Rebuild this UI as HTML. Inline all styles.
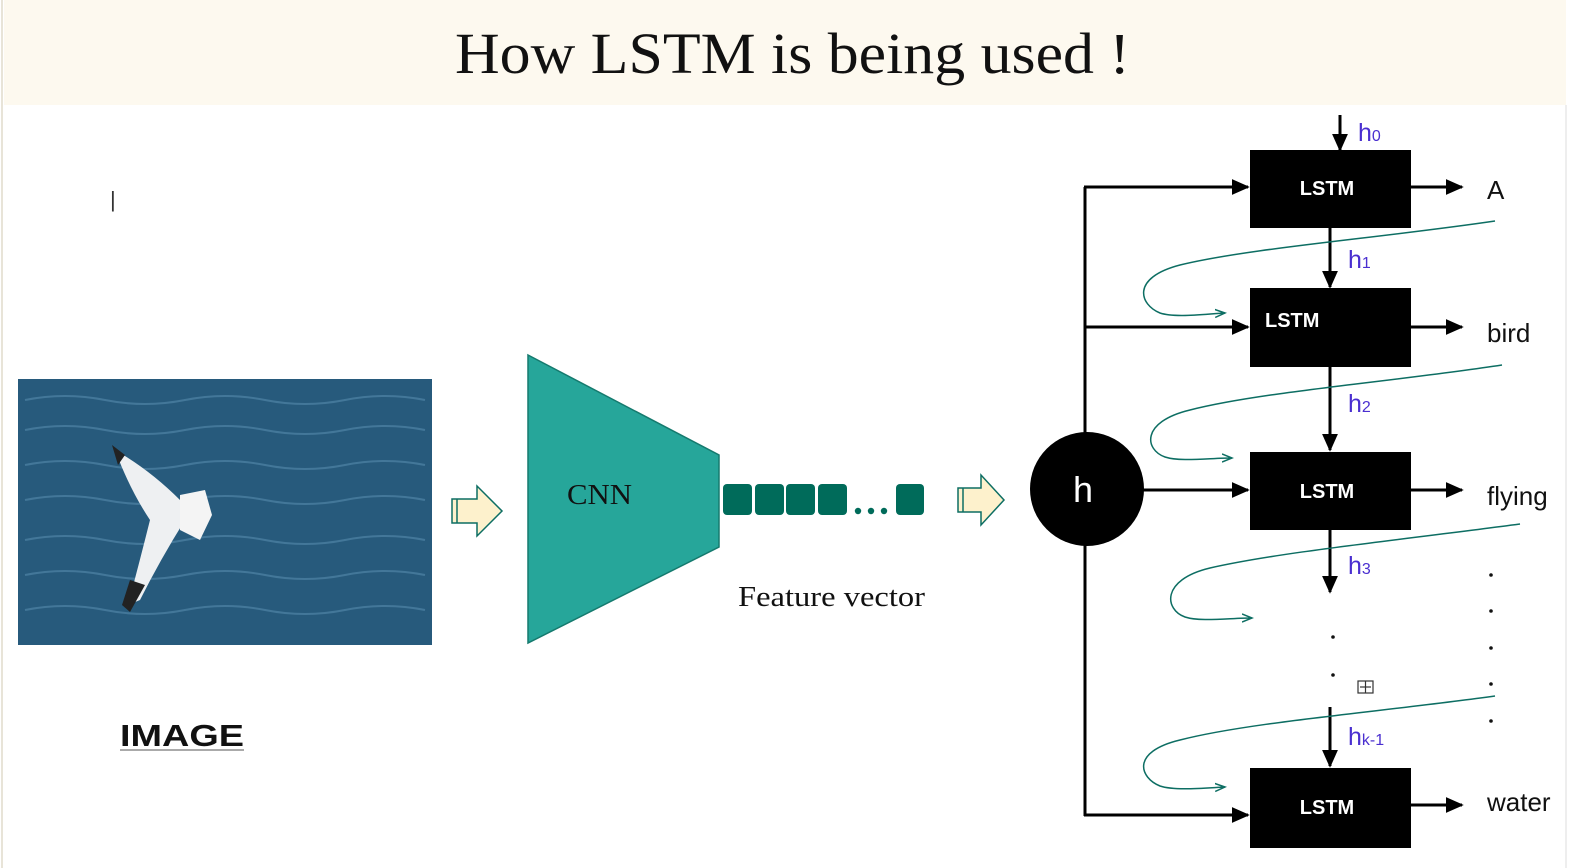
<!DOCTYPE html>
<html><head><meta charset="utf-8"><style>
html,body{margin:0;padding:0;background:#fff;width:1593px;height:868px;overflow:hidden}
svg{display:block}
.s{font-family:"Liberation Sans",sans-serif}
.r{font-family:"Liberation Serif",serif}
</style></head><body>
<svg width="1593" height="868" viewBox="0 0 1593 868" xmlns="http://www.w3.org/2000/svg">
<defs>
<marker id="ab" viewBox="0 0 10 10" markerWidth="18" markerHeight="16" refX="9" refY="5" orient="auto" markerUnits="userSpaceOnUse" preserveAspectRatio="none"><path d="M0,0 L10,5 L0,10 Z" fill="#000"/></marker>
<marker id="at" markerWidth="12" markerHeight="10" refX="10" refY="5" orient="auto" markerUnits="userSpaceOnUse"><path d="M0,1 L10,5 L0,9" fill="none" stroke="#0d6e63" stroke-width="1.5"/></marker>
</defs>
<rect x="0" y="0" width="1593" height="868" fill="#fff"/>
<rect x="4" y="0" width="1562" height="105" fill="#fdf9ef"/>
<line x1="2" y1="0" x2="2" y2="868" stroke="#e8e4d8" stroke-width="2"/>
<line x1="1566" y1="105" x2="1566" y2="868" stroke="#ddd" stroke-width="1"/>
<text x="455" y="73" textLength="675" lengthAdjust="spacingAndGlyphs" class="r" font-size="58" fill="#111">How LSTM is being used !</text>
<text x="110" y="207" class="s" font-size="22" fill="#333">|</text>

<!-- image -->
<rect x="18" y="379" width="414" height="266" fill="#275a7c"/>
<g stroke="#4f84a6" stroke-width="2" fill="none" opacity="0.7">
<path d="M25,400 q40,-8 80,0 t80,0 t80,0 t80,0 t80,0"/>
<path d="M25,430 q40,-8 80,0 t80,0 t80,0 t80,0 t80,0"/>
<path d="M25,465 q40,-8 80,0 t80,0 t80,0 t80,0 t80,0"/>
<path d="M25,500 q40,-8 80,0 t80,0 t80,0 t80,0 t80,0"/>
<path d="M25,540 q40,-8 80,0 t80,0 t80,0 t80,0 t80,0"/>
<path d="M25,575 q40,-8 80,0 t80,0 t80,0 t80,0 t80,0"/>
<path d="M25,610 q40,-8 80,0 t80,0 t80,0 t80,0 t80,0"/>
</g>
<path d="M115,450 Q150,470 180,500 L185,520 Q160,560 140,600 L128,605 Q140,560 150,520 Q130,490 115,450 Z" fill="#eef0f2"/>
<path d="M180,495 L205,490 L212,515 L200,540 L180,530 Z" fill="#f4f4f4"/>
<path d="M112,445 L125,455 L118,465 Z" fill="#222"/>
<path d="M130,580 L145,585 L130,612 L122,605 Z" fill="#222"/>
<text x="120" y="746" class="s" font-size="31" font-weight="bold" fill="#111" textLength="124" lengthAdjust="spacingAndGlyphs">IMAGE</text>
<line x1="120" y1="750" x2="244" y2="750" stroke="#555" stroke-width="1"/>

<!-- block arrows -->
<path d="M452,499 L477,499 L477,486 L502,511 L477,536 L477,523 L452,523 Z" fill="#fdf1cc" stroke="#0d6e63" stroke-width="1.5"/>
<line x1="457" y1="499" x2="457" y2="523" stroke="#0d6e63" stroke-width="1.5"/>
<path d="M958,488 L981,488 L981,475 L1004,500 L981,525 L981,512 L958,512 Z" fill="#fdf1cc" stroke="#0d6e63" stroke-width="1.5"/>
<line x1="963" y1="488" x2="963" y2="512" stroke="#0d6e63" stroke-width="1.5"/>

<!-- CNN -->
<path d="M528,355 L719,455 L719,547 L528,643 Z" fill="#26a69a" stroke="#157a6e" stroke-width="1.5"/>
<text x="567" y="504" class="r" font-size="29" fill="#111" textLength="65" lengthAdjust="spacingAndGlyphs">CNN</text>
<g fill="#006b5a">
<rect x="723" y="484" width="29" height="31" rx="4"/>
<rect x="755" y="484" width="29" height="31" rx="4"/>
<rect x="786" y="484" width="29" height="31" rx="4"/>
<rect x="818" y="484" width="29" height="31" rx="4"/>
<rect x="896" y="484" width="28" height="31" rx="4"/>
<circle cx="858" cy="511" r="3.2"/><circle cx="871" cy="511" r="3.2"/><circle cx="884" cy="511" r="3.2"/>
</g>
<text x="738" y="606" class="r" font-size="29" fill="#111" textLength="187" lengthAdjust="spacingAndGlyphs">Feature vector</text>

<!-- LSTM network -->
<g stroke="#000" stroke-width="3" fill="none">
<line x1="1085" y1="187" x2="1085" y2="816"/>
<line x1="1084" y1="187" x2="1248" y2="187" marker-end="url(#ab)"/>
<line x1="1084" y1="327" x2="1248" y2="327" marker-end="url(#ab)"/>
<line x1="1140" y1="490" x2="1248" y2="490" marker-end="url(#ab)"/>
<line x1="1084" y1="815" x2="1248" y2="815" marker-end="url(#ab)"/>
<line x1="1411" y1="187" x2="1462" y2="187" marker-end="url(#ab)"/>
<line x1="1411" y1="327" x2="1462" y2="327" marker-end="url(#ab)"/>
<line x1="1411" y1="490" x2="1462" y2="490" marker-end="url(#ab)"/>
<line x1="1411" y1="805" x2="1462" y2="805" marker-end="url(#ab)"/>
<line x1="1340" y1="115" x2="1340" y2="150" marker-end="url(#ab)"/>
<line x1="1330" y1="228" x2="1330" y2="287" marker-end="url(#ab)"/>
<line x1="1330" y1="367" x2="1330" y2="450" marker-end="url(#ab)"/>
<line x1="1330" y1="530" x2="1330" y2="592" marker-end="url(#ab)"/>
<line x1="1330" y1="707" x2="1330" y2="766" marker-end="url(#ab)"/>
</g>
<circle cx="1087" cy="489" r="57" fill="#000"/>
<text x="1083" y="502" text-anchor="middle" class="s" font-size="36" fill="#fff">h</text>
<g fill="#000">
<rect x="1250" y="150" width="161" height="78"/>
<rect x="1250" y="288" width="161" height="79"/>
<rect x="1250" y="452" width="161" height="78"/>
<rect x="1250" y="768" width="161" height="80"/>
</g>
<g class="s" font-size="20" font-weight="bold" fill="#fff">
<text x="1327" y="195" text-anchor="middle">LSTM</text>
<text x="1265" y="327">LSTM</text>
<text x="1327" y="498" text-anchor="middle">LSTM</text>
<text x="1327" y="814" text-anchor="middle">LSTM</text>
</g>
<g class="s" fill="#4a2fd0">
<text x="1358" y="141" font-size="25">h<tspan font-size="16">0</tspan></text>
<text x="1348" y="268" font-size="25">h<tspan font-size="16">1</tspan></text>
<text x="1348" y="412" font-size="25">h<tspan font-size="16">2</tspan></text>
<text x="1348" y="574" font-size="25">h<tspan font-size="16">3</tspan></text>
<text x="1348" y="745" font-size="25">h<tspan font-size="16">k-1</tspan></text>
</g>
<g class="s" font-size="26" fill="#111">
<text x="1487" y="199">A</text>
<text x="1487" y="342">bird</text>
<text x="1487" y="505">flying</text>
<text x="1487" y="811">water</text>
</g>
<g fill="#111">
<circle cx="1491" cy="575" r="1.8"/><circle cx="1491" cy="611" r="1.8"/><circle cx="1491" cy="648" r="1.8"/><circle cx="1491" cy="684" r="1.8"/><circle cx="1491" cy="721" r="1.8"/>
<circle cx="1333" cy="637" r="1.8"/><circle cx="1333" cy="675" r="1.8"/>
</g>
<rect x="1358" y="681" width="15" height="12" fill="none" stroke="#333" stroke-width="1.2"/>
<line x1="1365.5" y1="681" x2="1365.5" y2="693" stroke="#333" stroke-width="1.2"/>
<line x1="1360" y1="687" x2="1371" y2="687" stroke="#333" stroke-width="1.2"/>
<g stroke="#0d6e63" stroke-width="1.5" fill="none">
<path d="M1495,221 C1380,238 1250,248 1180,265 C1130,278 1140,305 1160,313 C1175,318 1205,314 1225,313" marker-end="url(#at)"/>
<path d="M1502,365 C1390,382 1260,392 1190,410 C1140,422 1145,450 1165,457 C1180,462 1210,458 1232,458" marker-end="url(#at)"/>
<path d="M1520,524 C1400,540 1280,552 1210,568 C1160,580 1165,610 1185,617 C1200,622 1230,618 1252,618" marker-end="url(#at)"/>
<path d="M1495,696 C1380,712 1250,722 1180,740 C1130,752 1140,778 1160,786 C1175,791 1205,788 1225,787" marker-end="url(#at)"/>
</g>
</svg>
</body></html>
